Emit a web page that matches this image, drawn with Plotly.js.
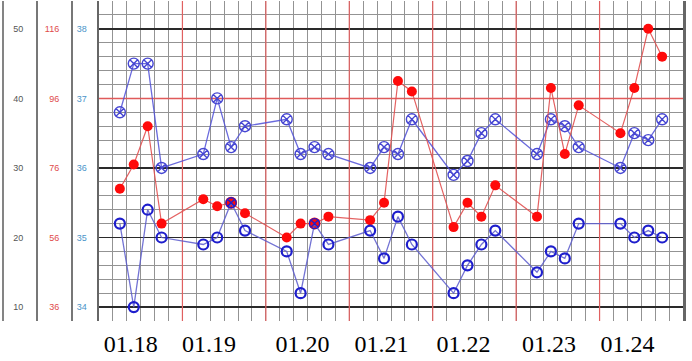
<!DOCTYPE html>
<html>
<head>
<meta charset="utf-8">
<script src="https://cdn.plot.ly/plotly-3.0.1.min.js"></script>
<style>html,body{margin:0;padding:0;background:#fff;}#chart{width:692px;height:361px;}</style>
</head>
<body>
<div id="chart"></div>
<script>
// ---- data ----
const days = ['01.18', '01.19', '01.20', '01.21', '01.22', '01.23', '01.24'];
const slotsPerDay = 6;
// measurement slot index (4-hour slots, 6 per day)
const slots = [1, 2, 3, 4, 7, 8, 9, 10, 13, 14, 15, 16, 19, 20, 21, 22, 25, 26, 27, 28, 31, 32, 33, 34, 37, 38, 39, 40];
const temperature = [36.8, 37.5, 37.5, 36.0, 36.2, 37.0, 36.3, 36.6, 36.7, 36.2, 36.3, 36.2, 36.0, 36.3, 36.2, 36.7,
                     35.9, 36.1, 36.5, 36.7, 36.2, 36.7, 36.6, 36.3, 36.0, 36.5, 36.4, 36.7];
const pulse = [70, 77, 88, 60, 67, 65, 66, 63, 56, 60, 60, 62, 61, 66, 101, 98,
               59, 66, 62, 71, 62, 99, 80, 94, 86, 99, 116, 108];
const respiration = [22, 10, 24, 20, 19, 20, 25, 21, 18, 12, 22, 19, 21, 17, 23, 19,
                     12, 16, 19, 21, 15, 18, 17, 22, 22, 20, 21, 20];
const tempTicks = [34, 35, 36, 37, 38];
const pulseTicks = [36, 56, 76, 96, 116];
const respTicks = [10, 20, 30, 40, 50];

// ---- layout helpers ----
const W = 692;
const nSlots = days.length * slotsPerDay;
const xs = slots.map(s => s + 0.5);
// day label positions (slightly left of each day centre, as in the source)
const labelShift = [-0.71, -1.09, -0.37, -0.69, -0.79, -0.64, -1.0];
const labelPos = days.map((d, i) => i * slotsPerDay + slotsPerDay / 2 + labelShift[i]);

const tRange = [33.8, 38.4];
const pRange = tRange.map(t => 36 + (t - 34) * 20);
const rRange = tRange.map(t => 10 + (t - 34) * 10);

// respiration points that coincide with pulse get the crossed symbol
const coincide = respiration.map((r, i) => Math.abs((r - 10) / 10 - (pulse[i] - 36) / 20) < 0.05);
const respSymbols = coincide.map(c => c ? 'circle-x-open' : 'circle-open');
const respStroke = coincide.map(c => c ? 1.3 : 2.2);
const pulseSize = coincide.map(c => c ? 12 : 10);

const traces = [
  {
    x: xs, y: temperature, xaxis: 'x', yaxis: 'y', mode: 'lines+markers',
    line: {color: 'rgba(80,80,215,0.85)', width: 1.3},
    marker: {symbol: 'circle-x-open', size: 11, color: '#4646d2', line: {width: 1.4}, opacity: 1},
    connectgaps: true, hoverinfo: 'skip'
  },
  {
    x: xs, y: pulse, xaxis: 'x', yaxis: 'y2', mode: 'lines+markers',
    line: {color: 'rgba(225,80,80,0.9)', width: 1.2},
    marker: {symbol: 'circle', size: pulseSize, color: '#ff0a0a', opacity: 1, line: {width: 0}},
    connectgaps: true, hoverinfo: 'skip'
  },
  {
    x: xs, y: respiration, xaxis: 'x', yaxis: 'y3', mode: 'lines+markers',
    line: {color: 'rgba(90,90,205,0.85)', width: 1.3},
    marker: {symbol: respSymbols, size: 10, color: '#1e1ecc', line: {width: respStroke}, opacity: 1},
    connectgaps: true, hoverinfo: 'skip'
  }
];

const shapes = [];
for (let d = 1; d < days.length; d++) {
  shapes.push({type: 'line', xref: 'x', yref: 'y', x0: d * slotsPerDay, x1: d * slotsPerDay,
               y0: tRange[0], y1: tRange[1],
               line: {color: '#e06060', width: 1.2}, layer: 'between'});
}
shapes.push({type: 'line', xref: 'x', yref: 'y', x0: 0, x1: nSlots, y0: 37, y1: 37,
             line: {color: '#e05a5a', width: 1.5}, layer: 'between'});
shapes.push({type: 'line', xref: 'paper', yref: 'paper', x0: 3 / W, x1: 3 / W, y0: 0, y1: 1,
             line: {color: '#777', width: 1.8}});

const tickFont = (c) => ({family: 'Liberation Sans, Arial, sans-serif', size: 9, color: c});

const layout = {
  width: 692, height: 361,
  margin: {l: 0, r: 0, t: 1, b: 40},
  paper_bgcolor: '#fff', plot_bgcolor: '#fff',
  showlegend: false, hovermode: false,
  xaxis: {
    domain: [99 / W, 683 / W], range: [0, nSlots], fixedrange: true,
    tickmode: 'array', tickvals: labelPos, ticktext: days,
    ticks: '', showgrid: false, zeroline: false, showline: false,
    tickfont: {family: 'Liberation Serif, Times New Roman, serif', size: 24, color: '#000'},
    ticklabelstandoff: 6,
    minor: {tickmode: 'linear', tick0: 0, dtick: 1, showgrid: true, gridcolor: '#939393', gridwidth: 1, ticks: ''}
  },
  yaxis: {
    range: tRange, fixedrange: true,
    tickmode: 'array', tickvals: tempTicks,
    showgrid: true, gridcolor: '#2a2a2a', gridwidth: 1.4, zeroline: false,
    minor: {tickmode: 'linear', tick0: 34, dtick: 0.2, showgrid: true, gridcolor: '#939393', gridwidth: 1, ticks: ''},
    showline: true, linecolor: '#666', linewidth: 2.5, mirror: true,
    ticks: '', tickfont: tickFont('#4a94c8'), ticklabelstandoff: 8
  },
  yaxis2: {
    overlaying: 'y', anchor: 'free', position: 71 / W, side: 'left',
    range: pRange, fixedrange: true, tickmode: 'array', tickvals: pulseTicks,
    showgrid: false, zeroline: false, showline: true, linecolor: '#777', linewidth: 1.8,
    ticks: '', tickfont: tickFont('#e04a4a'), ticklabelstandoff: 10
  },
  yaxis3: {
    overlaying: 'y', anchor: 'free', position: 36 / W, side: 'left',
    range: rRange, fixedrange: true, tickmode: 'array', tickvals: respTicks,
    showgrid: false, zeroline: false, showline: true, linecolor: '#777', linewidth: 1.8,
    ticks: '', tickfont: tickFont('#555'), ticklabelstandoff: 11
  },
  shapes: shapes
};

Plotly.newPlot('chart', traces, layout, {staticPlot: true, displayModeBar: false});
</script>
</body>
</html>
